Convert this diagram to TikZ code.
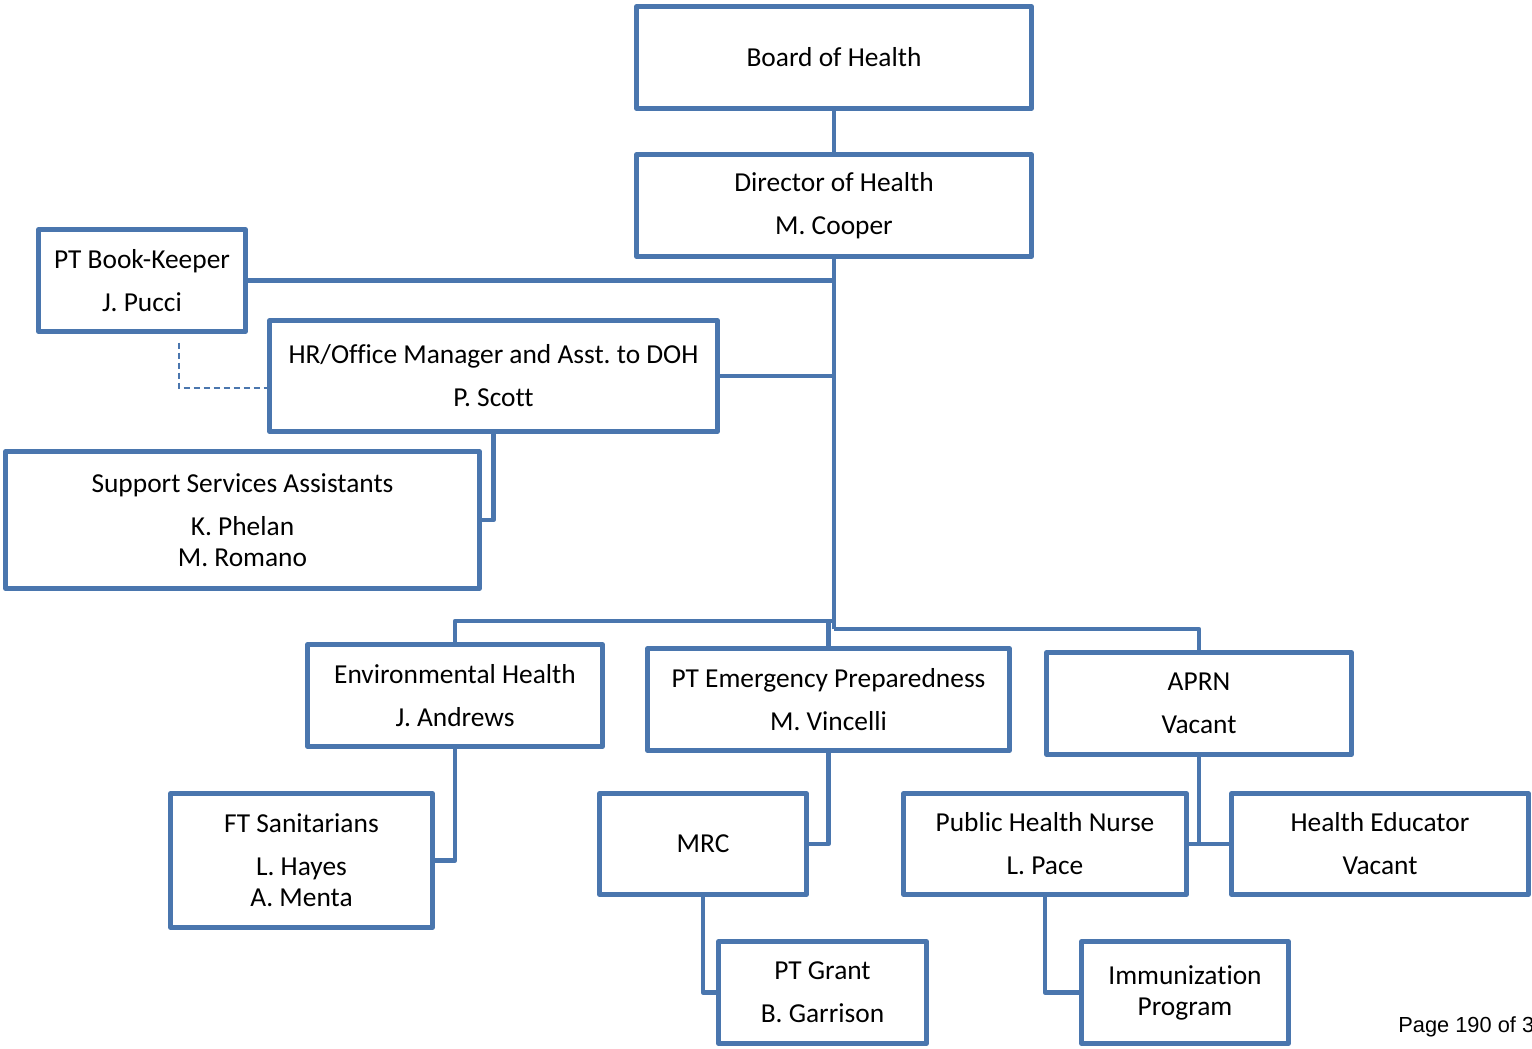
\documentclass[tikz,border=0pt]{standalone}
\usepackage{fontspec}
\setmainfont{Carlito}[Ligatures={NoCommon}]
\newfontfamily\pagefont{Liberation Sans}
\definecolor{orgblue}{RGB}{74,118,174}
\frenchspacing
\tikzset{
  box/.style={draw=orgblue, line width=2.2pt, line join=round, rectangle, inner sep=0pt,
    align=center, font=\fontsize{13.7}{15.5}\selectfont, text=black, fill=white},
  conn/.style={draw=orgblue, line width=2.2pt, line join=round},
  dashconn/.style={draw=orgblue, line width=0.75pt, dash pattern=on 3pt off 2pt}
}
\newcommand{\orgbox}[6]{\node[box, minimum width=#4*0.5pt, minimum height=#5*0.5pt] (#1) at (#2,#3) {#6};}
\begin{document}
\begin{tikzpicture}[x=0.5pt, y=-0.5pt]
\useasboundingbox (0,0) rectangle (1532,1049);
\clip (0,0) rectangle (1532,1049);
\coordinate (t1) at (834,621);
\coordinate (t2) at (834,629);
% boxes
\orgbox{board}{834}{57.5}{395}{102}{Board of Health}
\orgbox{director}{834}{205.5}{395}{102}{Director of Health\\[6pt]M. Cooper}
\orgbox{book}{142}{280.5}{207}{102}{PT Book-Keeper\\[6pt]J. Pucci}
\orgbox{hr}{493.5}{376}{448}{111}{HR/Office Manager and Asst. to DOH\\[6pt]P. Scott}
\orgbox{support}{242.5}{520}{474}{137}{Support Services Assistants\\[6pt]K. Phelan\\M. Romano}
\orgbox{env}{455}{695.5}{295}{102}{Environmental Health\\[6pt]J. Andrews}
\orgbox{ftsan}{301.5}{860.5}{262}{134}{FT Sanitarians\\[6pt]L. Hayes\\A. Menta}
\orgbox{ptep}{828.5}{699.5}{362}{102}{PT Emergency Preparedness\\[6pt]M. Vincelli}
\orgbox{mrc}{703}{844}{207}{101}{MRC}
\orgbox{grant}{822.5}{992.5}{208}{102}{PT Grant\\[6pt]B. Garrison}
\orgbox{aprn}{1199}{703.5}{305}{102}{APRN\\[6pt]Vacant}
\orgbox{phn}{1045}{844}{283}{101}{Public Health Nurse\\[6pt]L. Pace}
\orgbox{hed}{1380}{844}{297}{101}{Health Educator\\[6pt]Vacant}
\orgbox{imm}{1185}{992.5}{207}{102}{Immunization\\Program}
% connectors
\draw[conn] (board.south) -- (director.north);
\draw[conn] (director.south) -- (t2);
\draw[conn] (book.east) -- (book.east -| director.south);
\draw[conn] (hr.east) -- (hr.east -| director.south);
\draw[conn] (hr.south) |- (support.east);
\draw[dashconn] ([shift={(37,9)}]book.south) |- ([shift={(4,12)}]hr.west);
\draw[conn] (env.north) |- (t1);
\draw[conn] (ptep.north) -- (ptep.north |- t1);
\draw[conn] (t2) -| (aprn.north);
\draw[conn] (env.south) |- (ftsan.east);
\draw[conn] (ptep.south) |- (mrc.east);
\draw[conn] (mrc.south) |- (grant.west);
\draw[conn] (aprn.south) -- (aprn.south |- phn.east);
\draw[conn] (phn.east) -- (hed.west);
\draw[conn] (phn.south) |- (imm.west);
% page footer
\node[anchor=base west, inner sep=0pt, font=\pagefont\fontsize{10.9}{12}\selectfont] (page) at (1398,1032) {Page 190 of 3};
\end{tikzpicture}
\end{document}
